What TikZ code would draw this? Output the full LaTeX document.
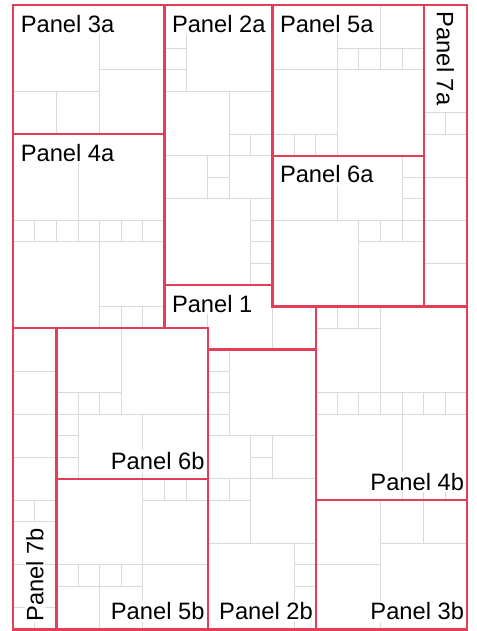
\documentclass[tikz,border=0pt]{standalone}
\usepackage{fontspec}
\setmainfont{Liberation Sans}
\definecolor{panelred}{RGB}{226,62,88}
\definecolor{gridgray}{RGB}{218,218,218}
\begin{document}
\begin{tikzpicture}[x=21.6bp,y=-21.53bp,
  gridline/.style={draw=gridgray,line width=0.9bp},
  panelline/.style={draw=panelred,line width=2.3bp,line cap=rect},
  lbl/.style={font=\fontsize{23.7bp}{28bp}\selectfont,fill=white,inner sep=1.5bp},
  toplbl/.style={lbl,anchor=base west},
  botlbl/.style={lbl,anchor=base east}]
\useasboundingbox[fill=white] (-13.3bp,5bp) rectangle (463.7bp,-626bp);

% ---------- grid (gray) ----------
\path[gridline]
 % Panel 3a
 (4,0)--(4,6) (4,3)--(7,3) (0,4)--(4,4) (2,4)--(2,6)
 % Panel 4a
 (3,6)--(3,10) (0,10)--(7,10) (0,11)--(7,11)
 (1,10)--(1,11) (2,10)--(2,11) (3,10)--(3,11) (4,10)--(4,11) (5,10)--(5,11) (6,10)--(6,11)
 (4,11)--(4,15) (4,14)--(7,14) (5,14)--(5,15) (6,14)--(6,15)
 % Panel 2a
 (8,0)--(8,4) (7,2)--(8,2) (7,3)--(8,3) (7,4)--(12,4)
 (10,4)--(10,9) (10,6)--(12,6) (11,6)--(11,7) (7,7)--(12,7)
 (9,7)--(9,9) (9,8)--(10,8) (7,9)--(12,9)
 (11,9)--(11,13) (11,10)--(12,10) (11,11)--(12,11) (11,12)--(12,12)
 % Panel 5a
 (15,0)--(15,7) (17,0)--(17,3) (15,2)--(19,2) (16,2)--(16,3) (18,2)--(18,3)
 (12,3)--(19,3) (12,6)--(15,6) (13,6)--(13,7) (14,6)--(14,7)
 % Panel 7a
 (19,5)--(21,5) (19,6)--(21,6) (20,5)--(20,6) (19,8)--(21,8) (19,10)--(21,10) (19,12)--(21,12)
 % Panel 6a
 (15,7)--(15,10) (18,7)--(18,10) (18,8)--(19,8) (18,9)--(19,9) (12,10)--(19,10)
 (16,10)--(16,14) (16,11)--(19,11) (17,10)--(17,11) (18,10)--(18,11)
 % Panel 1
 (9,13)--(9,15) (12,14)--(12,16)
 % Panel 2b
 (10,16)--(10,20) (9,17)--(10,17) (9,18)--(10,18) (9,19)--(10,19) (9,20)--(14,20)
 (11,20)--(11,25) (11,21)--(12,21) (12,20)--(12,22) (9,22)--(14,22)
 (10,22)--(10,23) (9,23)--(11,23) (9,25)--(14,25)
 (13,25)--(13,29) (13,26)--(14,26) (13,27)--(14,27) (13,28)--(14,28)
 % Panel 4b
 (15,14)--(15,15) (16,14)--(16,15) (17,14)--(17,18) (14,15)--(17,15)
 (14,18)--(21,18) (14,19)--(21,19)
 (15,18)--(15,19) (16,18)--(16,19) (17,18)--(17,19) (18,18)--(18,19) (19,18)--(19,19) (20,18)--(20,19)
 (18,19)--(18,23) (18,22)--(21,22) (19,22)--(19,23) (20,22)--(20,23)
 % Panel 3b
 (17,23)--(17,29) (19,23)--(19,25) (17,25)--(21,25) (14,26)--(17,26)
 % Panel 7b
 (0,17)--(2,17) (0,19)--(2,19) (0,21)--(2,21) (0,23)--(2,23) (0,24)--(2,24)
 (0,26)--(2,26) (0,28)--(2,28) (1,23)--(1,24) (1,28)--(1,29)
 % Panel 6b
 (5,15)--(5,19) (2,18)--(5,18) (3,18)--(3,19) (4,18)--(4,19) (2,19)--(9,19)
 (3,19)--(3,22) (2,20)--(3,20) (2,21)--(3,21) (6,19)--(6,22)
 % Panel 5b
 (6,22)--(6,29) (6,23)--(9,23) (7,22)--(7,23) (8,22)--(8,23) (2,26)--(9,26)
 (3,26)--(3,27) (4,26)--(4,29) (5,26)--(5,27) (2,27)--(6,27);

% ---------- labels ----------
\node[toplbl] (p3a) at ([xshift=5.8bp,yshift=-27.2bp]0,0) {\rule{0pt}{25bp}Panel 3a};
\node[toplbl] (p4a) at ([xshift=5.8bp,yshift=-27.2bp]0,6) {\rule{0pt}{25bp}Panel 4a};
\node[toplbl] (p2a) at ([xshift=5.8bp,yshift=-27.2bp]7,0) {\rule{0pt}{25bp}Panel 2a};
\node[toplbl] (p5a) at ([xshift=5.8bp,yshift=-27.2bp]12,0) {\rule{0pt}{25bp}Panel 5a};
\node[toplbl] (p6a) at ([xshift=5.8bp,yshift=-27.2bp]12,7) {\rule{0pt}{25bp}Panel 6a};
\node[toplbl] (p1) at ([xshift=5.8bp,yshift=-27.2bp]7,13) {\rule{0pt}{25bp}Panel 1};
\node[botlbl] (p6b) at ([xshift=-1.5bp,yshift=9.5bp]9,22) {Panel 6b};
\node[botlbl] (p5b) at ([xshift=-1.5bp,yshift=9.5bp]9,29) {Panel 5b};
\node[botlbl] (p2b) at ([xshift=-1.2bp,yshift=9.5bp]14,29) {Panel 2b};
\node[botlbl] (p4b) at ([xshift=-1.2bp,yshift=9.5bp]21,23) {Panel 4b};
\node[botlbl] (p3b) at ([xshift=-1.2bp,yshift=9.5bp]21,29) {Panel 3b};
\node[lbl,rotate=-90,anchor=base west] (p7a) at ([xshift=13.1bp,yshift=-5bp]19,0) {Panel 7a};
\node[lbl,rotate=90,anchor=base west] (p7b) at ([xshift=30.1bp,yshift=6.1bp]0,29) {Panel 7b};

% ---------- panel borders (red) ----------
\path[panelline]
 (0,0) rectangle (21,29)
 (7,0)--(7,15) (0,6)--(7,6) (0,15)--(9,15)
 (12,0)--(12,14) (7,13)--(12,13)
 (12,7)--(19,7) (19,0)--(19,14) (12,14)--(21,14)
 (14,14)--(14,29) (9,16)--(14,16)
 (9,15)--(9,29) (2,15)--(2,29) (2,22)--(9,22)
 (14,23)--(21,23);
\end{tikzpicture}
\end{document}
